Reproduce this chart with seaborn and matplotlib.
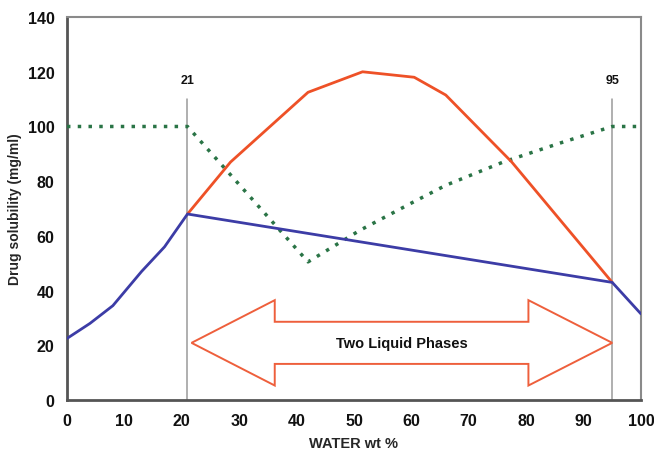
import matplotlib
matplotlib.use("Agg")
import matplotlib.pyplot as plt
from matplotlib.patches import Polygon
import seaborn as sns
import pandas as pd

# Solubility curves vs. water content
blue_x = [0, 4, 8, 13, 17, 21, 95, 100]
blue_y = [22.5, 28, 34.5, 47, 56, 68, 43, 31.5]

red_x = [21, 28.5, 42, 51.5, 60.5, 66, 77.5, 95]
red_y = [68, 87, 112.5, 120, 118, 111.5, 87, 43]

green_x = [0, 21, 42, 51, 60, 66, 76, 86, 95, 100]
green_y = [100, 100, 50.5, 62, 72, 78.5, 87, 94, 100, 100]

# Phase boundaries
boundaries = [21, 95]
x_ticks = [0, 10, 20, 30, 40, 50, 60, 70, 80, 90, 100]
y_ticks = [0, 20, 40, 60, 80, 100, 120, 140]

sns.set_theme(style="white")
plt.rcParams["font.family"] = ["Liberation Sans", "DejaVu Sans"]
plt.rcParams["font.weight"] = "bold"

fig = plt.figure(figsize=(6.54, 4.52), dpi=100)
ax = fig.add_axes([0.1024, 0.1128, 0.8776, 0.8472])

blue_df = pd.DataFrame({"x": blue_x, "y": blue_y})
red_df = pd.DataFrame({"x": red_x, "y": red_y})
green_df = pd.DataFrame({"x": green_x, "y": green_y})

for xb in boundaries:
    ax.plot([xb, xb], [0, 110], color="#9a9a9a", lw=1.1, zorder=1)
    ax.text(xb, 117, str(xb), ha="center", va="center", fontsize=9,
            fontweight="bold", color="#111111")

sns.lineplot(data=green_df, x="x", y="y", sort=False, estimator=None, ax=ax,
             color="#2a7446", lw=2.5, linestyle=(0, (1, 2.1)), zorder=3)
sns.lineplot(data=red_df, x="x", y="y", sort=False, estimator=None, ax=ax,
             color="#ee5127", lw=2.0, zorder=4)
sns.lineplot(data=blue_df, x="x", y="y", sort=False, estimator=None, ax=ax,
             color="#3c3ca6", lw=2.0, zorder=5)

# Double-headed arrow spanning the two-liquid-phase region
x0, x1 = boundaries[0] + 0.7, boundaries[1]
yc, shaft, head = 20.9, 7.7, 15.6
hb0, hb1 = 36.2, 80.4
arrow = Polygon([
    (x0, yc), (hb0, yc + head), (hb0, yc + shaft), (hb1, yc + shaft),
    (hb1, yc + head), (x1, yc), (hb1, yc - head), (hb1, yc - shaft),
    (hb0, yc - shaft), (hb0, yc - head)
], closed=True, facecolor="white", edgecolor="#ee5f3c", lw=1.4, zorder=2)
ax.add_patch(arrow)
ax.text(58.3, yc, "Two Liquid Phases", ha="center", va="center",
        fontsize=10.5, fontweight="bold", color="#111111", zorder=6)

ax.set_xlim(0, 100)
ax.set_ylim(0, 140)
ax.set_xticks(x_ticks)
ax.set_yticks(y_ticks)
ax.set_xticklabels([str(v) for v in x_ticks], fontsize=11.5, fontweight="bold")
ax.set_yticklabels([str(v) for v in y_ticks], fontsize=11.5, fontweight="bold")
ax.tick_params(axis="both", direction="out", length=4, width=1.2,
               color="#555555", pad=5, labelcolor="#111111")
ax.set_xlabel("WATER wt %", fontsize=10.5, fontweight="bold")
ax.set_ylabel("Drug solubility (mg/ml)", fontsize=10, fontweight="bold")
ax.xaxis.set_label_coords(0.5, -0.094)
ax.yaxis.set_label_coords(-0.078, 0.5)

for side in ["left", "bottom"]:
    ax.spines[side].set_color("#555555")
    ax.spines[side].set_linewidth(2.0)
for side in ["top", "right"]:
    ax.spines[side].set_color("#8a8a8a")
    ax.spines[side].set_linewidth(1.5)

fig.savefig("out.png", dpi=100, facecolor="white")
